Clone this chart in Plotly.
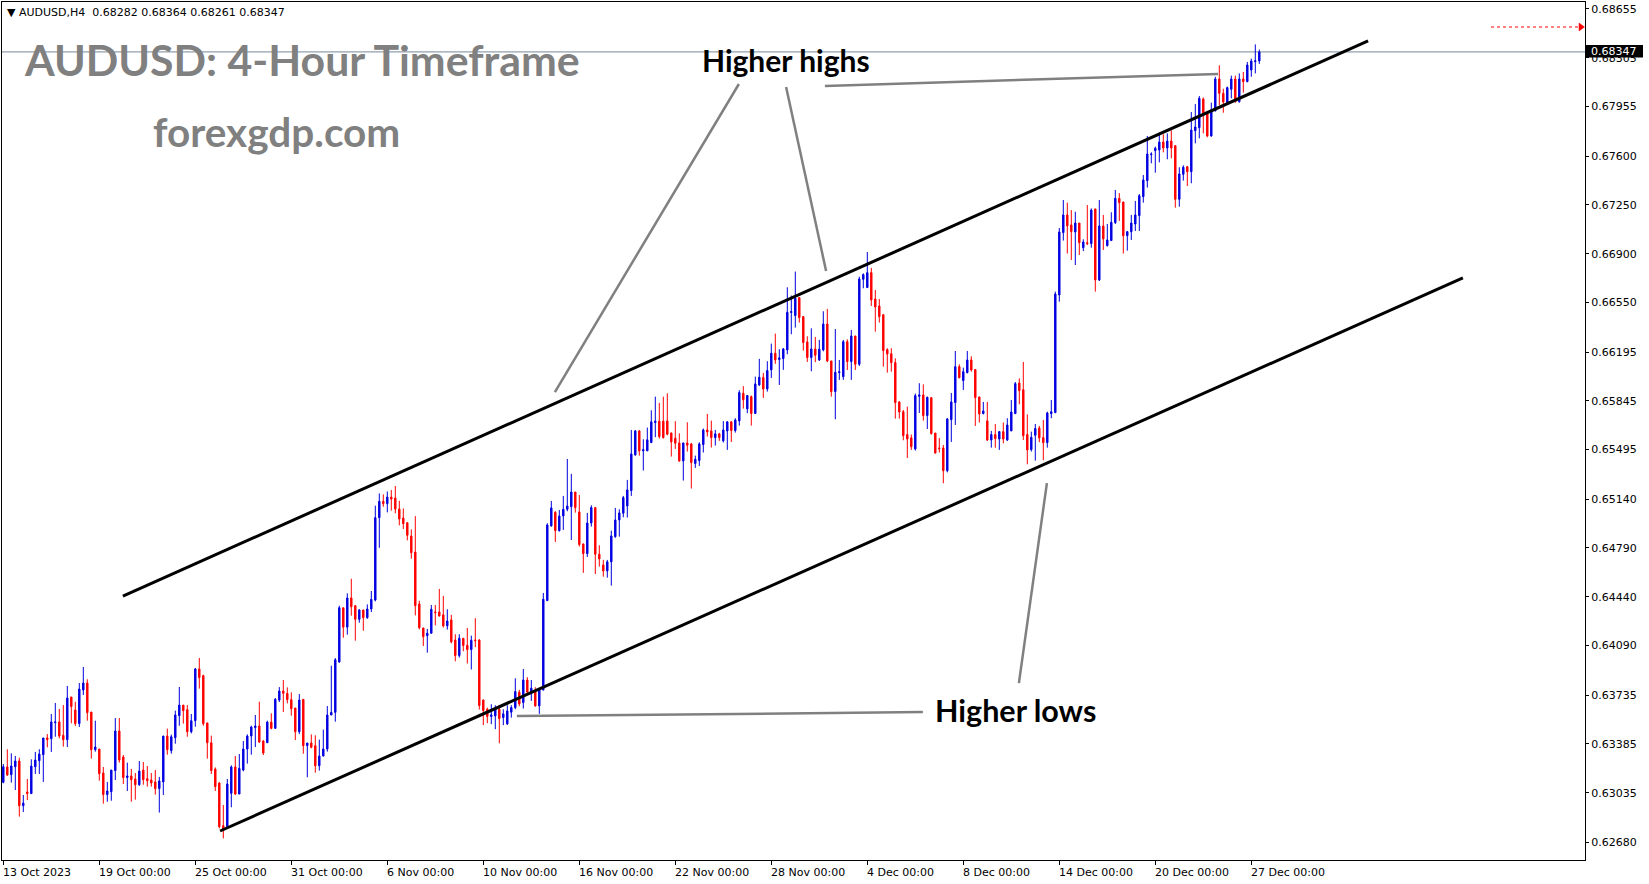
import plotly.graph_objects as go

# ---------------- data (AUDUSD H4) ----------------
open_ = [
0.63109,0.63219,0.63164,0.63221,0.63262,0.62941,0.63040,0.63028,0.63221,0.63264,
0.63307,0.63427,0.63422,0.63537,0.63542,0.63446,0.63415,0.63721,0.63628,0.63530,
0.63771,0.63821,0.63613,0.63343,0.63348,0.63176,0.63021,0.63042,0.63193,0.63477,
0.63291,0.63143,0.63155,0.63133,0.63092,0.63197,0.63135,0.63126,0.63112,0.63064,
0.63112,0.63441,0.63336,0.63429,0.63587,0.63663,0.63630,0.63472,0.63551,0.63922,
0.63874,0.63535,0.63393,0.63204,0.63104,0.62798,0.62791,0.63030,0.63219,0.63025,
0.63197,0.63348,0.63441,0.63501,0.63513,0.63405,0.63393,0.63541,0.63496,0.63699,
0.63764,0.63747,0.63702,0.63642,0.63472,0.63704,0.63372,0.63391,0.63372,0.63228,
0.63298,0.63348,0.63592,0.63611,0.63972,0.64361,0.64222,0.64431,0.64376,0.64278,
0.64345,0.64290,0.64352,0.64416,0.65007,0.65124,0.65107,0.65155,0.65148,0.65069,
0.65004,0.64971,0.64875,0.64760,0.64388,0.64216,0.64161,0.64178,0.64331,0.64331,
0.64310,0.64231,0.64274,0.64130,0.64018,0.64142,0.64092,0.64061,0.64130,0.64130,
0.63700,0.63633,0.63581,0.63585,0.63633,0.63573,0.63528,0.63612,0.63645,0.63755,
0.63681,0.63843,0.63757,0.63762,0.63657,0.63772,0.64412,0.64948,0.65046,0.64914,
0.65019,0.65067,0.65086,0.65191,0.65048,0.64819,0.64749,0.64969,0.65079,0.64745,
0.64668,0.64625,0.64690,0.64871,0.64991,0.65039,0.65091,0.65201,0.65457,0.65629,
0.65486,0.65486,0.65546,0.65689,0.65699,0.65699,0.65701,0.65615,0.65577,0.65543,
0.65414,0.65543,0.65536,0.65395,0.65417,0.65531,0.65636,0.65629,0.65581,0.65608,
0.65558,0.65629,0.65694,0.65632,0.65701,0.65899,0.65787,0.65875,0.65754,0.65959,
0.66012,0.65930,0.66067,0.66186,0.66141,0.66148,0.66210,0.66478,0.66456,0.66585,
0.66449,0.66267,0.66155,0.66217,0.66138,0.66210,0.66396,0.66131,0.65911,0.66047,
0.66018,0.66269,0.66126,0.66310,0.66107,0.66716,0.66657,0.66764,0.66575,0.66525,
0.66463,0.66212,0.66183,0.66119,0.65837,0.65767,0.65603,0.65579,0.65500,0.65877,
0.65887,0.65739,0.65868,0.65614,0.65507,0.65507,0.65344,0.65710,0.65832,0.66090,
0.65990,0.66047,0.66138,0.66069,0.65873,0.65753,0.65701,0.65564,0.65603,0.65571,
0.65624,0.65564,0.65629,0.65753,0.65973,0.65925,0.65603,0.65495,0.65598,0.65650,
0.65581,0.65545,0.65753,0.65760,0.66604,0.67051,0.67178,0.67106,0.67056,0.67120,
0.66943,0.66979,0.66972,0.67221,0.66712,0.67099,0.66958,0.66994,0.67123,0.67297,
0.67271,0.67029,0.67058,0.67113,0.67173,0.67309,0.67424,0.67610,0.67639,0.67644,
0.67701,0.67658,0.67708,0.67675,0.67290,0.67469,0.67524,0.67488,0.67782,0.67804,
0.68009,0.67914,0.67744,0.67923,0.68153,0.68050,0.67983,0.68079,0.68153,0.67990,
0.68153,0.68134,0.68217,0.68277,0.68282]

high = [
0.63240,0.63346,0.63317,0.63298,0.63286,0.63018,0.63133,0.63274,0.63327,0.63346,
0.63427,0.63455,0.63599,0.63678,0.63635,0.63663,0.63800,0.63721,0.63687,0.63821,
0.63936,0.63848,0.63613,0.63551,0.63348,0.63219,0.63112,0.63197,0.63570,0.63570,
0.63305,0.63250,0.63205,0.63176,0.63262,0.63255,0.63226,0.63176,0.63197,0.63148,
0.63441,0.63494,0.63451,0.63623,0.63793,0.63663,0.63663,0.63599,0.63929,0.64001,
0.63881,0.63535,0.63444,0.63216,0.63111,0.62946,0.63133,0.63231,0.63298,0.63312,
0.63405,0.63453,0.63515,0.63592,0.63687,0.63412,0.63551,0.63604,0.63714,0.63792,
0.63843,0.63790,0.63754,0.63642,0.63742,0.63704,0.63391,0.63453,0.63446,0.63415,
0.63487,0.63656,0.63945,0.64000,0.64376,0.64361,0.64464,0.64569,0.64376,0.64352,
0.64345,0.64385,0.64481,0.65093,0.65181,0.65174,0.65195,0.65205,0.65234,0.65128,
0.65073,0.64971,0.64923,0.65018,0.64411,0.64216,0.64209,0.64381,0.64381,0.64496,
0.64446,0.64350,0.64310,0.64171,0.64171,0.64142,0.64216,0.64161,0.64286,0.64135,
0.63700,0.63645,0.63669,0.63662,0.63662,0.63633,0.63662,0.63662,0.63855,0.63772,
0.63922,0.63863,0.63843,0.63791,0.63772,0.64467,0.64967,0.65127,0.65053,0.65062,
0.65163,0.65428,0.65321,0.65191,0.65170,0.64819,0.65041,0.65096,0.65079,0.64809,
0.64704,0.64704,0.64914,0.65077,0.65067,0.65163,0.65278,0.65636,0.65636,0.65636,
0.65569,0.65653,0.65777,0.65875,0.65830,0.65875,0.65899,0.65615,0.65699,0.65612,
0.65543,0.65691,0.65543,0.65452,0.65548,0.65646,0.65751,0.65703,0.65636,0.65615,
0.65699,0.65699,0.65699,0.65720,0.65921,0.65950,0.65883,0.65883,0.66019,0.66146,
0.66045,0.66129,0.66255,0.66327,0.66215,0.66224,0.66659,0.66600,0.66772,0.66585,
0.66449,0.66308,0.66365,0.66303,0.66282,0.66487,0.66504,0.66131,0.66360,0.66138,
0.66281,0.66286,0.66353,0.66310,0.66735,0.66759,0.66912,0.66798,0.66640,0.66575,
0.66463,0.66222,0.66222,0.66150,0.65842,0.65779,0.65803,0.65603,0.65897,0.65971,
0.65963,0.65875,0.65868,0.65614,0.65579,0.65528,0.65722,0.65901,0.66202,0.66107,
0.66083,0.66202,0.66164,0.66069,0.65873,0.65837,0.65837,0.65629,0.65679,0.65629,
0.65689,0.65720,0.65851,0.65980,0.66006,0.66124,0.65748,0.65624,0.65679,0.65665,
0.65708,0.65767,0.65851,0.66628,0.67084,0.67285,0.67266,0.67213,0.67201,0.67120,
0.67003,0.67249,0.67225,0.67221,0.67285,0.67178,0.67113,0.67197,0.67357,0.67335,
0.67271,0.67063,0.67178,0.67278,0.67328,0.67464,0.67744,0.67627,0.67668,0.67768,
0.67756,0.67763,0.67785,0.67675,0.67520,0.67534,0.67529,0.67916,0.67973,0.68031,
0.68021,0.67914,0.67983,0.68169,0.68251,0.68083,0.68098,0.68177,0.68177,0.68193,
0.68203,0.68275,0.68299,0.68401,0.68364]

low = [
0.63102,0.63155,0.63107,0.63054,0.62863,0.62896,0.62982,0.63028,0.63169,0.63169,
0.63112,0.63360,0.63327,0.63436,0.63424,0.63365,0.63362,0.63532,0.63513,0.63506,
0.63735,0.63551,0.63279,0.63329,0.63121,0.62956,0.62970,0.62977,0.63126,0.63250,
0.63097,0.63047,0.62970,0.62985,0.63083,0.63092,0.63078,0.63078,0.63021,0.62892,
0.63018,0.63307,0.63315,0.63386,0.63515,0.63530,0.63436,0.63460,0.63508,0.63781,
0.63515,0.63279,0.63169,0.63047,0.62779,0.62707,0.62791,0.62930,0.63018,0.63025,
0.63188,0.63243,0.63307,0.63362,0.63391,0.63305,0.63393,0.63489,0.63496,0.63685,
0.63613,0.63675,0.63587,0.63412,0.63455,0.63314,0.63145,0.63353,0.63178,0.63193,
0.63295,0.63329,0.63592,0.63544,0.63967,0.64146,0.64168,0.64304,0.64125,0.64254,
0.64196,0.64282,0.64330,0.64407,0.64791,0.65085,0.65045,0.65057,0.65038,0.64952,
0.64925,0.64844,0.64713,0.64306,0.64206,0.64087,0.64039,0.64178,0.64235,0.64298,
0.64219,0.64204,0.64106,0.63977,0.64004,0.64049,0.63961,0.63918,0.64078,0.63631,
0.63519,0.63533,0.63526,0.63490,0.63389,0.63519,0.63521,0.63573,0.63633,0.63655,
0.63638,0.63748,0.63693,0.63652,0.63600,0.63767,0.64412,0.64943,0.64833,0.64907,
0.64919,0.65053,0.64847,0.65043,0.64800,0.64611,0.64725,0.64943,0.64603,0.64656,
0.64584,0.64577,0.64520,0.64862,0.64871,0.65010,0.65008,0.65163,0.65452,0.65452,
0.65345,0.65486,0.65541,0.65584,0.65574,0.65574,0.65598,0.65445,0.65500,0.65407,
0.65273,0.65481,0.65216,0.65364,0.65378,0.65474,0.65589,0.65510,0.65524,0.65558,
0.65546,0.65493,0.65550,0.65617,0.65667,0.65789,0.65756,0.65667,0.65754,0.65952,
0.65866,0.65911,0.66009,0.66110,0.65959,0.66067,0.66179,0.66322,0.66370,0.66406,
0.66205,0.66124,0.66057,0.66122,0.66131,0.66200,0.66122,0.65875,0.65713,0.65995,
0.65995,0.66066,0.65995,0.66066,0.66095,0.66652,0.66657,0.66525,0.66341,0.66406,
0.66090,0.66047,0.66054,0.65717,0.65717,0.65562,0.65435,0.65493,0.65488,0.65758,
0.65703,0.65643,0.65603,0.65466,0.65474,0.65254,0.65332,0.65550,0.65672,0.66006,
0.65923,0.66042,0.66054,0.65665,0.65689,0.65748,0.65557,0.65509,0.65509,0.65493,
0.65540,0.65557,0.65629,0.65753,0.65820,0.65564,0.65390,0.65481,0.65416,0.65548,
0.65419,0.65509,0.65720,0.65760,0.66556,0.66994,0.66901,0.66855,0.66819,0.66891,
0.66919,0.66962,0.66943,0.66628,0.66704,0.66927,0.66951,0.66994,0.67113,0.67135,
0.66901,0.66922,0.66998,0.67063,0.67063,0.67266,0.67374,0.67548,0.67481,0.67555,
0.67627,0.67577,0.67584,0.67230,0.67237,0.67424,0.67386,0.67405,0.67691,0.67727,
0.67763,0.67735,0.67739,0.67923,0.67966,0.67911,0.67973,0.68014,0.67983,0.67983,
0.68055,0.68129,0.68169,0.68193,0.68261]

close = [
0.63221,0.63162,0.63226,0.63262,0.62941,0.62960,0.63028,0.63226,0.63269,0.63312,
0.63427,0.63415,0.63542,0.63542,0.63441,0.63415,0.63714,0.63652,0.63530,0.63778,
0.63821,0.63609,0.63343,0.63362,0.63171,0.63021,0.63047,0.63197,0.63477,0.63269,
0.63143,0.63155,0.63128,0.63092,0.63190,0.63128,0.63121,0.63104,0.63064,0.63119,
0.63441,0.63343,0.63436,0.63592,0.63663,0.63623,0.63472,0.63551,0.63922,0.63860,
0.63530,0.63393,0.63193,0.63078,0.62791,0.62772,0.63097,0.63219,0.63025,0.63209,
0.63348,0.63441,0.63506,0.63513,0.63398,0.63319,0.63541,0.63496,0.63704,0.63764,
0.63747,0.63702,0.63637,0.63472,0.63699,0.63372,0.63391,0.63360,0.63228,0.63298,
0.63348,0.63592,0.63611,0.63988,0.64361,0.64222,0.64431,0.64368,0.64278,0.64345,
0.64290,0.64352,0.64421,0.65007,0.65124,0.65107,0.65155,0.65140,0.65069,0.64997,
0.64964,0.64880,0.64756,0.64376,0.64218,0.64154,0.64178,0.64350,0.64326,0.64302,
0.64231,0.64266,0.64116,0.64018,0.64142,0.64090,0.64061,0.64128,0.64125,0.63660,
0.63624,0.63581,0.63593,0.63633,0.63566,0.63600,0.63621,0.63645,0.63760,0.63671,
0.63843,0.63757,0.63784,0.63657,0.63772,0.64422,0.64955,0.65077,0.64914,0.65019,
0.65067,0.65091,0.65191,0.65079,0.64814,0.64749,0.64969,0.65079,0.64745,0.64711,
0.64625,0.64690,0.64876,0.64991,0.65041,0.65151,0.65206,0.65464,0.65629,0.65486,
0.65495,0.65565,0.65694,0.65699,0.65589,0.65581,0.65605,0.65550,0.65541,0.65414,
0.65543,0.65526,0.65402,0.65426,0.65536,0.65636,0.65622,0.65581,0.65608,0.65581,
0.65636,0.65694,0.65632,0.65708,0.65904,0.65852,0.65883,0.65754,0.65966,0.66014,
0.65930,0.66062,0.66186,0.66138,0.66153,0.66217,0.66480,0.66485,0.66580,0.66442,
0.66263,0.66155,0.66217,0.66172,0.66215,0.66396,0.66131,0.65911,0.66050,0.66054,
0.66269,0.66126,0.66310,0.66107,0.66719,0.66750,0.66764,0.66568,0.66518,0.66449,
0.66205,0.66181,0.66119,0.65832,0.65765,0.65595,0.65571,0.65516,0.65882,0.65887,
0.65739,0.65870,0.65610,0.65471,0.65502,0.65344,0.65715,0.65837,0.66090,0.66011,
0.66054,0.66138,0.66066,0.65868,0.65751,0.65772,0.65564,0.65603,0.65574,0.65624,
0.65571,0.65672,0.65765,0.65968,0.65918,0.65595,0.65493,0.65583,0.65646,0.65579,
0.65545,0.65758,0.65767,0.66611,0.67056,0.67178,0.67099,0.67058,0.67120,0.66979,
0.66984,0.66972,0.67213,0.66712,0.67099,0.67006,0.66998,0.67125,0.67297,0.67266,
0.67029,0.67058,0.67120,0.67178,0.67316,0.67429,0.67615,0.67615,0.67656,0.67701,
0.67658,0.67708,0.67658,0.67290,0.67472,0.67520,0.67488,0.67787,0.67809,0.68014,
0.67911,0.67744,0.67930,0.68153,0.68050,0.67988,0.68091,0.68153,0.67990,0.68153,
0.68134,0.68253,0.68282,0.68284,0.68347]

date_labels = ["13 Oct 2023", "19 Oct 00:00", "25 Oct 00:00", "31 Oct 00:00",
               "6 Nov 00:00", "10 Nov 00:00", "16 Nov 00:00", "22 Nov 00:00",
               "28 Nov 00:00", "4 Dec 00:00", "8 Dec 00:00", "14 Dec 00:00",
               "20 Dec 00:00", "27 Dec 00:00"]
date_bars = [0, 24, 48, 72, 96, 120, 144, 168, 192, 216, 240, 264, 288, 312]

price_ticks = [0.68655, 0.68305, 0.67955, 0.67600, 0.67250, 0.66900, 0.66550,
               0.66195, 0.65845, 0.65495, 0.65140, 0.64790, 0.64440, 0.64090,
               0.63735, 0.63385, 0.63035, 0.62680]

symbol = "AUDUSD,H4"
title_text = "AUDUSD: 4-Hour Timeframe"
site_text = "forexgdp.com"

assert len(open_) == len(high) == len(low) == len(close)
bars = list(range(len(close)))
last_price = close[-1]

# ---------------- layout geometry ----------------
W, H = 1649, 884
L, R, T, B = 2, 1585, 2, 860          # plot area in pixels


def px(x):
    return (x - L) / (R - L)


def py(y):
    return (B - y) / (B - T)


BLUE = "#0000E0"
RED = "#FF0000"
GREY = "#808080"

fig = go.Figure()
fig.add_trace(go.Candlestick(
    x=bars, open=open_, high=high, low=low, close=close,
    increasing=dict(line=dict(color=BLUE, width=1), fillcolor=BLUE),
    decreasing=dict(line=dict(color=RED, width=1), fillcolor=RED),
    whiskerwidth=0, hoverinfo="skip", showlegend=False,
))

shapes = []
# current price line
shapes.append(dict(type="line", xref="paper", yref="y", x0=0, x1=1,
                   y0=last_price, y1=last_price, layer="below",
                   line=dict(color="#778899", width=1)))
# channel lines
shapes.append(dict(type="line", xref="x", yref="y", x0=29.9, y0=0.64445,
                   x1=341.2, y1=0.68426, line=dict(color="black", width=3)))
shapes.append(dict(type="line", xref="x", yref="y", x0=54.2, y0=0.62760,
                   x1=364.9, y1=0.66726, line=dict(color="black", width=3)))
# grey pointer lines
for (a, b, c, d) in [(183.9, 0.68117, 137.9, 0.65908),
                     (195.7, 0.68096, 205.7, 0.66776),
                     (205.4, 0.68103, 303.7, 0.68189),
                     (128.4, 0.63584, 229.9, 0.63613),
                     (253.9, 0.63821, 260.9, 0.65255)]:
    shapes.append(dict(type="line", xref="x", yref="y", x0=a, y0=b, x1=c, y1=d,
                       line=dict(color=GREY, width=2.5)))
# red dotted shift arrow
shapes.append(dict(type="line", xref="paper", yref="paper",
                   x0=px(1491), x1=px(1580), y0=py(27), y1=py(27),
                   line=dict(color=RED, width=1, dash="dot")))
shapes.append(dict(type="path", xref="paper", yref="paper",
                   path=f"M {px(1579)},{py(23)} L {px(1584.5)},{py(27)} L {px(1579)},{py(31)} Z",
                   fillcolor=RED, line=dict(color=RED, width=0.5)))
# current price box on the axis
shapes.append(dict(type="rect", xref="paper", yref="paper",
                   x0=px(1586), x1=px(1643), y0=py(45), y1=py(57.5),
                   fillcolor="black", line=dict(width=0)))

annotations = []
hdr = (f"\u25bc {symbol}\u00a0\u00a0{open_[-1]:.5f} {high[-1]:.5f} "
       f"{low[-1]:.5f} {close[-1]:.5f}")
annotations.append(dict(text=hdr, xref="paper", yref="paper", x=px(5), y=py(12.5),
                        xanchor="left", yanchor="middle", showarrow=False,
                        font=dict(family="DejaVu Sans", size=11, color="black")))
annotations.append(dict(text=title_text, xref="paper", yref="paper", x=px(22), y=py(59),
                        xanchor="left", yanchor="middle", showarrow=False,
                        font=dict(family="Lato", size=42.8, color=GREY, weight="bold")))
annotations.append(dict(text=site_text, xref="paper", yref="paper", x=px(151), y=py(132),
                        xanchor="left", yanchor="middle", showarrow=False,
                        font=dict(family="Lato", size=40.5, color=GREY, weight="bold")))
annotations.append(dict(text="Higher highs", xref="paper", yref="paper", x=px(700), y=py(60),
                        xanchor="left", yanchor="middle", showarrow=False,
                        font=dict(family="Lato", size=30, color="black", weight="bold")))
annotations.append(dict(text="Higher lows", xref="paper", yref="paper", x=px(933), y=py(710),
                        xanchor="left", yanchor="middle", showarrow=False,
                        font=dict(family="Lato", size=30.5, color="black", weight="bold")))
annotations.append(dict(text=f"{last_price:.5f}", xref="paper", yref="paper",
                        x=px(1589), y=py(51.5), xanchor="left", yanchor="middle",
                        showarrow=False,
                        font=dict(family="DejaVu Sans", size=11, color="white")))
for lab, pos in zip(date_labels, date_bars):
    annotations.append(dict(text=lab, xref="x", yref="paper", x=pos, y=py(872),
                            xanchor="left", yanchor="middle", showarrow=False,
                            xshift=-2,
                            font=dict(family="DejaVu Sans", size=11, color="black")))

fig.update_layout(
    width=W, height=H,
    margin=dict(l=L, r=W - R, t=T, b=H - B, pad=0),
    paper_bgcolor="white", plot_bgcolor="white",
    showlegend=False, boxgap=0.5, hovermode=False,
    shapes=shapes, annotations=annotations,
    xaxis=dict(range=[(L - 3.3) / 4, (R - 3.3) / 4], showgrid=False, zeroline=False,
               showline=True, linecolor="black", linewidth=1, mirror=True,
               ticks="outside", tickvals=date_bars, ticklen=4, tickcolor="black",
               showticklabels=False, rangeslider=dict(visible=False), fixedrange=True),
    yaxis=dict(side="right", range=[0.62552, 0.68705], showgrid=False, zeroline=False,
               showline=True, linecolor="black", linewidth=1, mirror=True,
               ticks="outside", ticklen=3, tickcolor="black",
               tickvals=price_ticks, ticktext=[f"{v:.5f}" for v in price_ticks],
               tickfont=dict(family="DejaVu Sans", size=11, color="black"),
               fixedrange=True),
)

fig.write_html(
    "out.html",
    config={"displayModeBar": False},
    post_script="document.body.style.margin='0px';document.body.style.overflow='hidden';",
)
